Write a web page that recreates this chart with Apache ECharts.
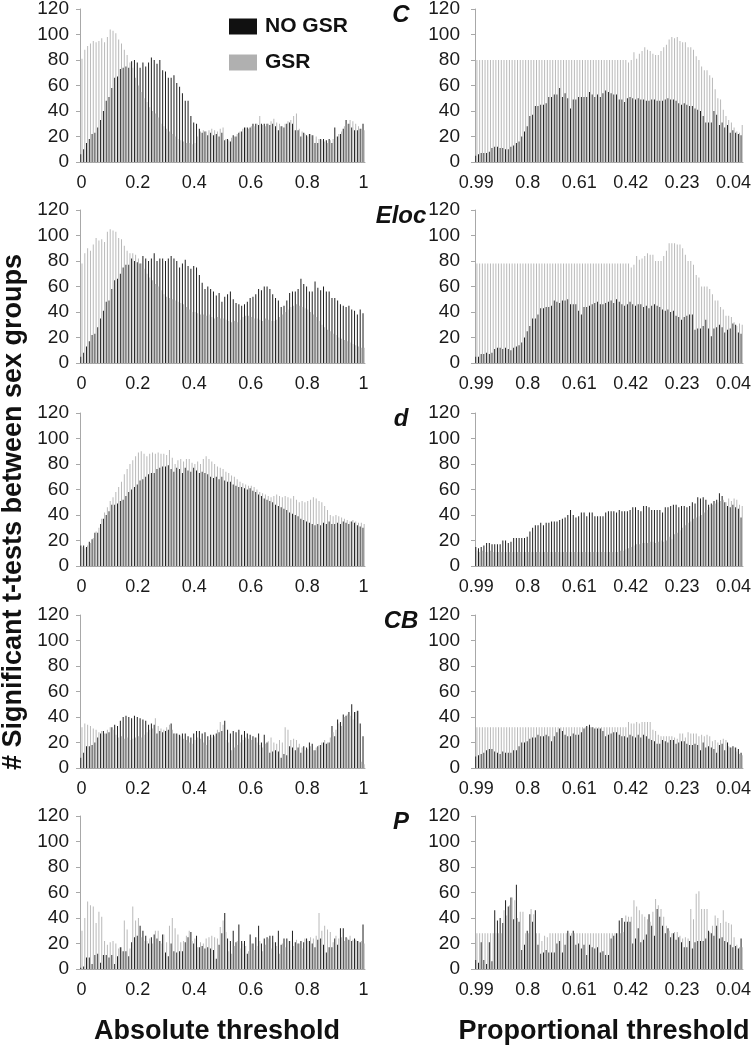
<!DOCTYPE html>
<html><head><meta charset="utf-8">
<script src="https://cdn.jsdelivr.net/npm/echarts@6/dist/echarts.min.js"></script>
<style>html,body{margin:0;padding:0;background:#fff}#c{width:755px;height:1050px}</style>
</head><body><div id="c"></div>
<script>
// ---------- categories / ticks ----------
const absCats = [];
for (let i = 0; i <= 100; i++) absCats.push(String(+(i / 100).toFixed(2)));   // 0 ... 1
const propCats = [];
for (let i = 99; i >= 1; i--) propCats.push(String(+(i / 100).toFixed(2)));   // 0.99 ... 0.01
const yTicks = [0, 20, 40, 60, 80, 100, 120];
const panelNames = ['C', 'Eloc', 'd', 'CB', 'P'];

// ---------- data: absolute threshold (101 values) ----------
const C_abs_noGSR = [6,10,15,18,22,23,27,33,40,48, 51,58,66,67,73,74,75,74,79,80, 78,74,78,75,78,82,80,77,80,72,
  71,66,66,68,62,59,54,48,48,36, 31,30,26,23,24,21,23,21,22,20, 23,17,18,16,21,20,23,24,27,27,
  27,30,30,29,30,30,30,29,30,28, 25,28,27,30,31,30,25,25,20,23, 21,22,21,15,15,18,18,17,18,15,
  27,20,22,26,33,30,27,25,25,26,30];
const C_abs_GSR = [81,88,91,93,95,94,95,97,94,98, 104,103,101,96,93,88,84,78,74,66, 60,55,50,47,43,40,38,35,30,28,
  26,24,22,20,18,17,16,15,15,14, 15,20,24,25,24,25,26,25,24,26, 27,18,17,19,20,22,24,26,27,26,
  28,28,30,36,29,28,30,32,34,31, 30,28,30,32,33,36,38,26,24,22, 20,22,21,20,18,17,16,15,17,18,
  20,22,24,28,30,33,32,30,28,26,25];

const Eloc_abs_noGSR = [5,8,13,17,22,23,28,35,41,48, 49,58,65,66,70,75,77,77,82,80, 79,78,84,82,80,82,86,80,82,82,
  80,82,84,82,80,75,78,81,76,74, 76,75,69,63,58,60,58,56,53,55, 48,52,54,56,50,47,46,45,46,48,
  51,52,54,58,57,60,60,58,54,51, 49,44,45,49,55,56,56,58,66,62, 60,56,56,64,59,57,60,56,56,51,
  51,49,46,45,44,45,42,41,38,42,39];
const Eloc_abs_GSR = [78,86,90,88,93,98,96,97,95,103, 105,104,103,98,97,92,88,86,86,85, 82,78,74,70,67,65,62,60,57,54,
  52,51,50,49,48,47,46,44,42,40, 40,39,38,38,37,38,36,35,36,35, 35,34,33,32,33,32,34,36,37,37,
  36,35,35,34,33,35,34,33,33,34, 36,38,40,42,44,45,46,45,44,43, 42,40,38,36,33,30,28,26,25,23,
  22,20,19,18,17,16,15,14,13,12,12];

const d_abs_noGSR = [16,16,15,19,21,26,26,33,37,40, 43,48,48,49,51,52,55,58,60,62, 64,67,68,70,72,73,73,76,77,78,
  78,79,76,74,77,76,73,77,75,74, 77,75,73,74,73,72,70,69,70,68, 70,67,66,66,64,63,62,62,61,60,
  61,59,58,56,55,53,52,51,50,48, 47,46,45,44,42,41,40,39,37,36, 35,34,33,32,33,32,34,33,35,33,
  33,34,33,35,34,33,35,34,32,31,30];
const d_abs_GSR = [15,14,16,18,22,27,30,37,42,46, 51,54,58,62,66,72,76,80,83,86, 89,90,88,86,88,89,88,89,88,88,
  87,91,85,80,83,84,82,84,84,81, 80,82,80,84,86,84,82,80,78,77, 76,74,73,71,70,68,66,65,64,63,
  63,62,60,58,57,56,55,54,55,56, 55,54,55,54,53,55,52,50,51,50, 51,52,54,53,51,50,47,44,40,39,
  40,39,38,37,36,35,36,35,34,34,33];

const CB_abs_noGSR = [8,12,17,17,18,20,24,27,29,27, 28,32,34,33,37,40,41,40,39,41, 40,39,38,37,34,35,34,27,29,28,
  29,30,35,27,27,26,27,27,25,24, 27,29,29,27,28,25,26,26,27,28, 29,37,30,27,29,28,30,26,29,27,
  26,25,24,27,20,26,20,12,13,14, 13,8,11,10,17,16,14,16,12,17, 16,20,19,14,17,18,20,19,20,33,
  25,38,36,42,41,44,50,44,45,35,25];
const CB_abs_GSR = [32,35,34,33,31,30,28,29,27,30, 32,30,26,24,25,23,24,22,23,24, 25,24,26,28,30,31,39,33,31,30,
  32,34,30,27,26,25,23,22,20,19, 22,24,23,20,18,22,24,25,30,36, 34,22,20,14,16,18,20,22,24,23,
  22,24,20,18,16,19,21,24,20,19, 22,20,32,30,22,23,22,19,16,14, 15,17,14,16,18,20,22,20,24,28,
  30,35,33,40,42,41,38,44,45,5,3];

const P_abs_noGSR = [1,2,9,9,4,11,12,5,11,11, 9,11,4,10,17,14,14,10,21,25, 26,34,30,26,20,25,27,24,22,27,
  13,10,20,14,13,14,14,21,25,29, 20,26,17,18,16,17,16,15,8,19, 28,44,24,22,30,21,35,22,22,12,
  27,20,25,34,20,24,25,26,26,21, 30,19,24,24,22,30,21,20,22,21, 24,22,20,17,23,24,19,13,17,17,
  24,19,32,32,25,23,22,24,22,21,35];
const P_abs_GSR = [30,40,53,50,49,36,45,41,22,19, 21,22,20,16,17,38,31,16,49,38, 40,25,22,22,24,20,30,30,20,27,
  21,34,40,32,27,21,22,26,30,22, 24,17,21,20,24,25,26,25,24,33, 38,29,14,12,18,22,16,20,18,14,
  20,15,18,22,14,19,24,16,21,18, 12,20,17,22,15,18,23,20,16,24, 22,25,24,26,44,30,34,31,29,21,
  26,24,25,22,24,26,23,23,22,22,20];

// ---------- data: proportional threshold (99 values, 0.99 -> 0.01) ----------
const C_prop_noGSR = [5,6,7,7,7,8,11,12,12,11, 11,10,10,12,13,15,16,20,24,28, 36,37,44,44,45,45,46,51,51,53,
  53,58,51,54,50,42,49,49,51,51, 51,51,55,53,51,53,51,54,56,55, 54,53,53,49,49,47,50,51,50,49,
  50,49,49,48,48,49,49,48,48,48, 49,50,49,49,48,46,45,46,45,44, 44,42,41,40,36,31,31,31,40,37,
  29,31,27,29,23,25,23,22,21];
const C_prop_GSR = [80,80,80,80,80,80,80,80,80,80, 80,80,80,80,80,80,80,80,80,80, 80,80,80,80,80,80,80,80,80,80,
  80,80,80,80,80,80,80,80,80,80, 80,80,80,80,80,80,80,80,80,80, 80,80,80,80,80,80,78,80,86,81,
  85,87,90,88,87,85,84,84,87,90, 92,96,98,97,98,95,94,94,90,90, 88,83,80,75,72,72,68,66,57,50,
  49,41,36,33,31,27,24,23,29];

const Eloc_prop_noGSR = [5,5,7,7,8,7,8,11,12,12, 11,12,11,10,12,13,14,16,20,25, 29,35,35,38,43,43,44,44,45,49,
  48,47,49,49,50,46,46,46,41,38, 44,44,45,46,47,48,46,46,47,48, 49,47,50,48,46,45,46,48,46,45,
  46,46,44,45,43,45,46,45,44,42, 41,42,40,41,37,36,34,36,37,38, 38,26,27,27,29,34,27,21,27,28,
  30,28,24,26,27,31,30,24,23];
const Eloc_prop_GSR = [78,78,78,78,78,78,78,78,78,78, 78,78,78,78,78,78,78,78,78,78, 78,78,78,78,78,78,78,78,78,78,
  78,78,78,78,78,78,78,78,78,78, 78,78,78,78,78,78,78,78,78,78, 78,78,78,78,78,78,78,75,77,84,
  81,82,84,86,85,85,80,80,80,84, 88,94,94,94,93,93,90,85,80,80, 77,69,67,60,60,60,58,54,49,49,
  44,42,37,37,36,32,29,31,30];

const d_prop_noGSR = [15,14,15,16,18,18,17,17,17,17, 20,20,18,19,22,22,22,22,22,23, 27,30,32,32,34,32,34,34,35,35,
  35,36,37,38,40,44,40,38,39,42, 42,39,42,42,39,39,39,39,42,43, 43,43,42,44,43,43,43,44,46,46,
  44,43,47,47,46,44,44,44,44,42, 46,46,47,48,48,46,47,47,46,47, 50,49,54,53,54,52,48,49,51,52,
  57,55,50,47,46,48,46,45,38];
const d_prop_GSR = [12,11,12,11,11,12,11,11,11,11, 11,11,11,11,11,11,11,11,11,11, 11,11,11,11,11,11,11,11,11,11,
  11,11,11,11,11,11,11,11,11,11, 11,11,11,11,11,11,11,11,11,11, 11,11,11,12,12,13,14,15,16,17,
  17,18,18,18,19,19,18,19,20,19, 20,23,21,25,26,28,30,32,34,35, 37,38,39,40,42,44,46,48,49,50,
  51,52,50,53,51,53,52,48,47];

const CB_prop_noGSR = [9,10,11,12,14,15,15,13,12,11, 13,12,12,12,14,14,17,20,20,21, 23,24,24,26,25,25,26,25,21,25,
  28,31,29,26,25,25,27,26,26,28, 31,33,34,32,31,31,31,29,25,26, 27,28,28,26,25,25,24,26,25,24,
  26,24,26,25,23,22,21,19,19,22, 21,20,22,22,19,20,21,21,19,18, 18,19,18,14,20,16,17,16,15,12,
  18,19,14,20,16,17,16,15,12];
const CB_prop_GSR = [32,32,32,32,32,32,32,32,32,32, 32,32,32,32,32,32,32,32,32,32, 32,32,32,32,32,32,32,32,32,32,
  32,32,32,32,32,32,32,32,32,32, 32,32,32,32,32,32,32,32,32,32, 32,32,32,32,32,32,36,35,35,36,
  35,36,36,36,36,30,29,26,25,25, 25,25,25,24,23,27,27,24,28,27, 27,27,25,26,25,26,25,21,22,20,
  22,23,22,17,16,16,13,11,10];

const P_prop_noGSR = [7,5,21,7,4,21,6,46,38,40, 36,54,49,56,39,66,37,15,19,30, 43,37,46,19,12,13,15,13,13,13,
  20,22,13,19,30,26,30,19,20,16, 19,11,19,17,16,17,13,14,11,11, 24,26,28,38,40,37,37,37,20,24,
  32,21,23,27,43,34,26,47,41,34, 28,32,25,28,23,25,21,17,17,22, 16,21,22,22,22,24,30,28,26,34,
  24,25,22,21,19,17,18,16,24];
const P_prop_GSR = [28,28,28,28,28,28,28,28,28,28, 46,42,50,56,54,40,45,45,28,28, 47,43,28,28,22,26,25,28,28,28,
  28,28,28,28,28,28,28,28,28,28, 28,28,28,28,28,28,28,28,28,28, 28,28,28,28,29,42,41,41,54,49,
  46,43,41,39,37,45,55,50,47,41, 34,30,28,29,29,26,24,25,24,47, 39,59,61,47,47,47,29,34,42,40,
  36,46,37,36,35,25,19,17,17];

const absNoGSR = [C_abs_noGSR, Eloc_abs_noGSR, d_abs_noGSR, CB_abs_noGSR, P_abs_noGSR];
const absGSR = [C_abs_GSR, Eloc_abs_GSR, d_abs_GSR, CB_abs_GSR, P_abs_GSR];
const propNoGSR = [C_prop_noGSR, Eloc_prop_noGSR, d_prop_noGSR, CB_prop_noGSR, P_prop_noGSR];
const propGSR = [C_prop_GSR, Eloc_prop_GSR, d_prop_GSR, CB_prop_GSR, P_prop_GSR];

// ---------- layout / style ----------
const FONT = "'Liberation Sans', Arial, sans-serif";
const BLACK = '#1e1e1e', GRAY = '#b9b9b9';
const AXIS = '#a8a8a8';
const tops = [9, 210, 413, 615, 816];
const H = 153;
const cols = [{left: 80, width: 285, cats: absCats, interval: 19, lm: 11},
              {left: 475, width: 268, cats: propCats, interval: 18, lm: 15}];

const grid = [], xAxis = [], yAxis = [], series = [], graphic = [];
let k = 0;
for (let r = 0; r < 5; r++) {
  for (let c = 0; c < 2; c++) {
    const col = cols[c];
    grid.push({left: col.left, top: tops[r], width: col.width, height: H, containLabel: false, outerBoundsMode: 'none'});
    xAxis.push({
      type: 'category', gridIndex: k, data: col.cats,
      axisLine: {show: true, lineStyle: {color: AXIS, width: 1}},
      axisTick: {show: false},
      axisLabel: {interval: col.interval, margin: 12, color: '#1a1a1a', fontSize: 18, fontFamily: FONT}
    });
    yAxis.push({
      type: 'value', gridIndex: k, min: yTicks[0], max: yTicks[yTicks.length - 1], interval: 20,
      splitLine: {show: false},
      axisLine: {show: true, lineStyle: {color: AXIS, width: 1}},
      axisTick: {show: true, length: 4, lineStyle: {color: AXIS}},
      axisLabel: {margin: col.lm, color: '#1a1a1a', fontSize: 19, fontFamily: FONT}
    });
    const nog = c === 0 ? absNoGSR[r] : propNoGSR[r];
    const gsr = c === 0 ? absGSR[r] : propGSR[r];
    series.push({name: 'NO GSR', type: 'bar', xAxisIndex: k, yAxisIndex: k, data: nog,
      itemStyle: {color: BLACK}, barGap: '15%', barCategoryGap: '25%', silent: true, animation: false});
    series.push({name: 'GSR', type: 'bar', xAxisIndex: k, yAxisIndex: k, data: gsr,
      itemStyle: {color: GRAY}, barGap: '15%', barCategoryGap: '25%', silent: true, animation: false});
    k++;
  }
  graphic.push({type: 'text', x: 401, y: tops[r] + 6,
    style: {text: panelNames[r], x: 0, y: 0, align: 'center', verticalAlign: 'middle',
      font: "italic bold 24px 'Liberation Sans', Arial, sans-serif", fill: '#111'}});
}
graphic.push({type: 'text', x: 14, y: 512, rotation: Math.PI / 2,
  style: {text: '# Significant t-tests between sex groups', align: 'center', verticalAlign: 'middle',
    font: "bold 27px 'Liberation Sans', Arial, sans-serif", fill: '#111'}});
graphic.push({type: 'text', x: 217, y: 1032,
  style: {text: 'Absolute threshold', align: 'center', verticalAlign: 'middle',
    font: "bold 27px 'Liberation Sans', Arial, sans-serif", fill: '#111'}});
graphic.push({type: 'text', x: 604, y: 1032,
  style: {text: 'Proportional threshold', align: 'center', verticalAlign: 'middle',
    font: "bold 27px 'Liberation Sans', Arial, sans-serif", fill: '#111'}});

const chart = echarts.init(document.getElementById('c'), null, {renderer: 'canvas'});
chart.setOption({
  animation: false,
  backgroundColor: '#fff',
  legend: {
    data: [{name: 'NO GSR', itemStyle: {color: '#111'}}, {name: 'GSR', itemStyle: {color: '#b0b0b0'}}],
    left: 229, top: 16, orient: 'vertical', itemWidth: 28, itemHeight: 16, itemGap: 15, padding: 0,
    icon: 'rect', selectedMode: false,
    textStyle: {fontSize: 21, fontWeight: 'bold', fontFamily: FONT, color: '#111', padding: [0, 0, 0, 3]}
  },
  grid, xAxis, yAxis, series, graphic
});
</script></body></html>
